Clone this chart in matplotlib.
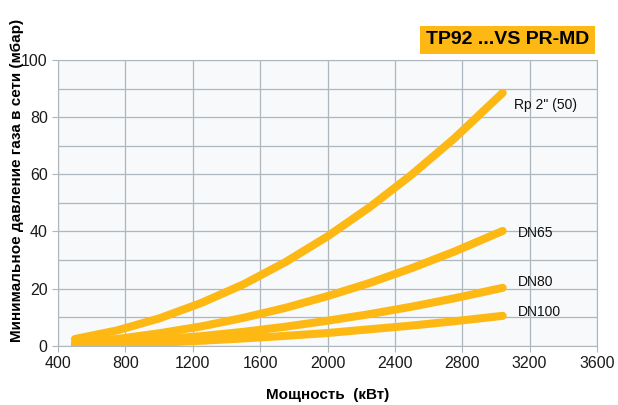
import matplotlib.pyplot as plt

plt.rcParams['font.family'] = ['Liberation Sans', 'DejaVu Sans']

# Мощность (кВт) и давление (мбар)
moshchnost = [500, 750, 1000, 1250, 1500, 1750, 2000, 2250, 2500, 2750, 3040]
rp2 = [2.4, 5.4, 9.6, 15.0, 21.5, 29.3, 38.3, 48.5, 59.9, 72.4, 88.5]
dn65 = [1.1, 2.4, 4.4, 6.8, 9.8, 13.3, 17.4, 22.0, 27.2, 32.9, 40.2]
dn80 = [0.6, 1.2, 2.2, 3.4, 4.9, 6.7, 8.8, 11.1, 13.7, 16.6, 20.3]
dn100 = [0.3, 0.6, 1.1, 1.8, 2.6, 3.5, 4.5, 5.8, 7.1, 8.6, 10.5]

serii = [rp2, dn65, dn80, dn100]
nazvaniya = ['Rp 2" (50)', 'DN65', 'DN80', 'DN100']
pozicii_podpisej = [(3110, 84.3), (3130, 39.6), (3130, 22.4), (3130, 11.9)]

x_ticks = [400, 800, 1200, 1600, 2000, 2400, 2800, 3200, 3600]
y_ticks = [0, 20, 40, 60, 80, 100]

cvet = '#FDB813'
setka = '#AEB6BE'

fig = plt.figure(figsize=(6.18, 4.05), dpi=100)
ax = fig.add_axes([0.094, 0.146, 0.872, 0.706])
ax.set_facecolor('#F7F9FB')

for y in serii:
    ax.plot(moshchnost, y, color=cvet, linewidth=5.8, solid_capstyle='round',
            solid_joinstyle='round', zorder=3)

for (tx, ty), name in zip(pozicii_podpisej, nazvaniya):
    ax.text(tx, ty, name, fontsize=10, color='#111111', va='center', ha='left')

ax.set_xlim(400, 3600)
ax.set_ylim(0, 100)
ax.set_xticks(x_ticks)
ax.set_yticks(y_ticks)
ax.set_yticks(range(10, 100, 20), minor=True)
ax.tick_params(axis='y', which='minor', length=0)
ax.grid(True, which='both', color=setka, linewidth=0.9, zorder=0)
ax.set_axisbelow(True)
ax.tick_params(labelsize=11.5, colors='#1a1a1a', length=4, color=setka)
for s in ax.spines.values():
    s.set_color(setka)

ax.set_xlabel('Мощность  (кВт)', fontsize=11, fontweight='bold', labelpad=12)
fig.text(0.027, 1 - 342 / 405, 'Минимальное давление газа в сети (мбар)',
         rotation=90, fontsize=11, fontweight='bold', ha='center', va='bottom')

fig.text(0.953, 1 - 40 / 405, 'TP92 ...VS PR-MD', fontsize=14, fontweight='bold',
         ha='right', va='center',
         bbox=dict(boxstyle='square,pad=0.3', facecolor='#FDB813', edgecolor='none'))

fig.savefig('out.png', dpi=100)
